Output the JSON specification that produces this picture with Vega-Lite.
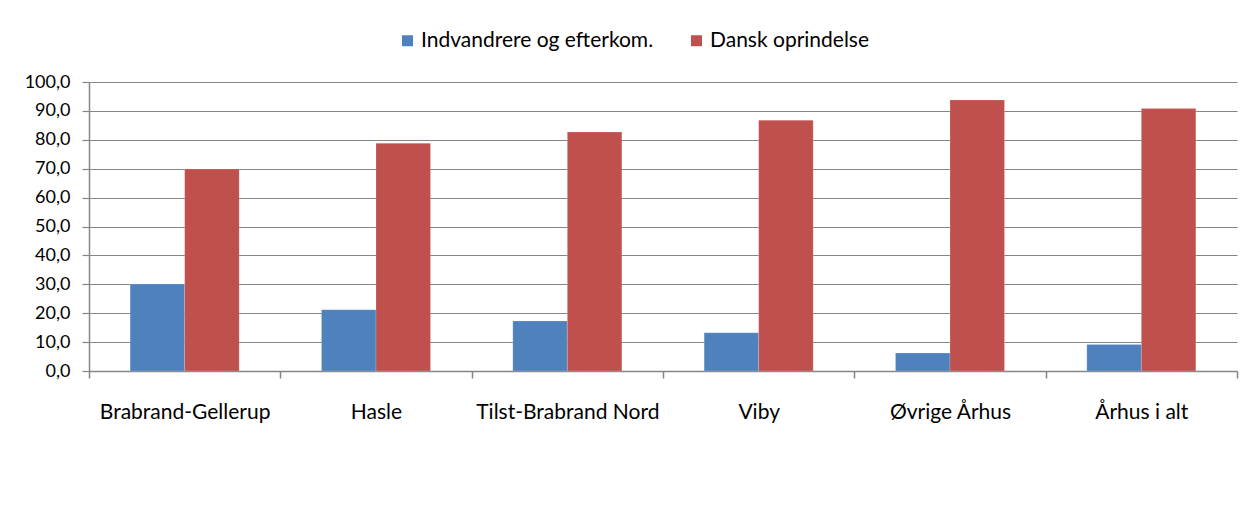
{
  "$schema": "https://vega.github.io/schema/vega-lite/v6.json",
  "width": 1148,
  "height": 289,
  "autosize": {"type": "none"},
  "padding": {"left": 89, "top": 82, "right": 12, "bottom": 137},
  "background": "white",
  "config": {
    "font": "Lato",
    "view": {"stroke": null},
    "axis": {"labelFont": "Lato", "labelColor": "black", "labelFontSize": 18}
  },
  "data": {
    "values": [
      {"omraade": "Brabrand-Gellerup", "gruppe": "Indvandrere og efterkom.", "andel": 30.1},
      {"omraade": "Brabrand-Gellerup", "gruppe": "Dansk oprindelse", "andel": 69.9},
      {"omraade": "Hasle", "gruppe": "Indvandrere og efterkom.", "andel": 21.2},
      {"omraade": "Hasle", "gruppe": "Dansk oprindelse", "andel": 78.8},
      {"omraade": "Tilst-Brabrand Nord", "gruppe": "Indvandrere og efterkom.", "andel": 17.3},
      {"omraade": "Tilst-Brabrand Nord", "gruppe": "Dansk oprindelse", "andel": 82.7},
      {"omraade": "Viby", "gruppe": "Indvandrere og efterkom.", "andel": 13.2},
      {"omraade": "Viby", "gruppe": "Dansk oprindelse", "andel": 86.8},
      {"omraade": "Øvrige Århus", "gruppe": "Indvandrere og efterkom.", "andel": 6.2},
      {"omraade": "Øvrige Århus", "gruppe": "Dansk oprindelse", "andel": 93.8},
      {"omraade": "Århus i alt", "gruppe": "Indvandrere og efterkom.", "andel": 9.2},
      {"omraade": "Århus i alt", "gruppe": "Dansk oprindelse", "andel": 90.8}
    ]
  },
  "mark": {"type": "bar", "stroke": "#ffffff", "strokeOpacity": 0.35, "strokeWidth": 0.5},
  "encoding": {
    "x": {
      "field": "omraade",
      "type": "nominal",
      "sort": null,
      "scale": {"paddingInner": 0, "paddingOuter": 0},
      "axis": {
        "title": null,
        "labelAngle": 0,
        "labelFontSize": 21,
        "labelLimit": 300,
        "tickBand": "extent",
        "grid": false,
        "domainColor": "#868686",
        "domainWidth": 1.5,
        "tickColor": "#868686",
        "tickWidth": 1.5,
        "tickSize": 7,
        "labelPadding": 23
      }
    },
    "xOffset": {
      "field": "gruppe",
      "type": "nominal",
      "sort": ["Indvandrere og efterkom.", "Dansk oprindelse"],
      "scale": {"paddingInner": 0, "paddingOuter": 0.755}
    },
    "y": {
      "field": "andel",
      "type": "quantitative",
      "scale": {"domain": [0, 100], "nice": false},
      "axis": {
        "title": null,
        "values": [0, 10, 20, 30, 40, 50, 60, 70, 80, 90, 100],
        "labelExpr": "replace(format(datum.value, '.1f'), '.', ',')",
        "grid": true,
        "gridColor": "#868686",
        "gridWidth": 1.2,
        "domainColor": "#868686",
        "domainWidth": 1.5,
        "tickColor": "#868686",
        "tickWidth": 1.2,
        "tickSize": 7,
        "labelPadding": 12
      }
    },
    "color": {
      "field": "gruppe",
      "type": "nominal",
      "scale": {
        "domain": ["Indvandrere og efterkom.", "Dansk oprindelse"],
        "range": ["#4F81BD", "#C0504D"]
      },
      "legend": {
        "title": null,
        "orient": "none",
        "direction": "horizontal",
        "legendX": 308,
        "legendY": -52,
        "symbolType": "square",
        "symbolSize": 121,
        "symbolStrokeWidth": 0,
        "labelFontSize": 21,
        "labelFont": "Lato",
        "labelColor": "black",
        "labelOffset": 3,
        "columnPadding": 32,
        "labelLimit": 400
      }
    }
  }
}
